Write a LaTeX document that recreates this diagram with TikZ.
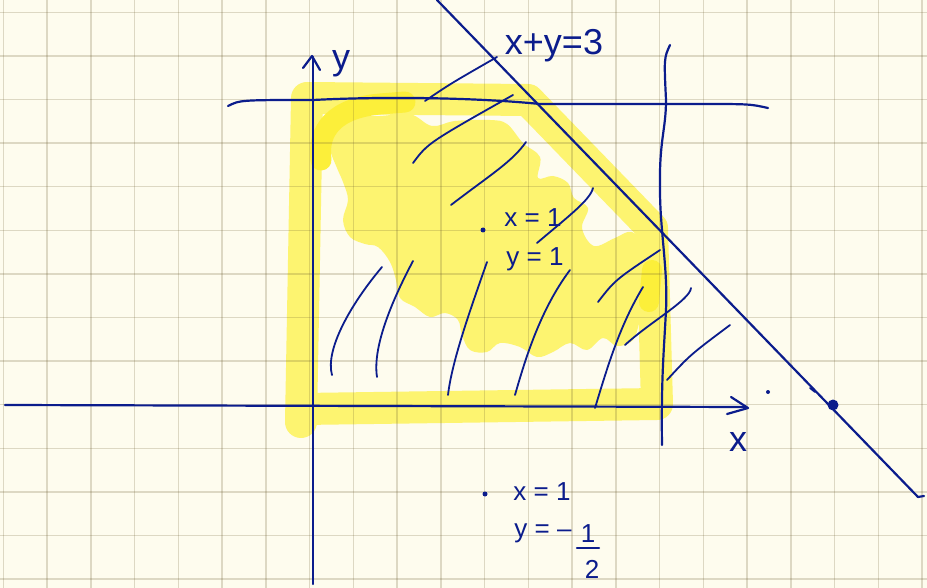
\documentclass[tikz,border=0pt]{standalone}
\usepackage{fontspec}
\setmainfont{Liberation Sans}
\usetikzlibrary{positioning,calc}
\definecolor{paper}    {HTML}{FEFCEE}
\definecolor{gridtone} {HTML}{6B5A2E}
\definecolor{pen}      {HTML}{0B1C8C}
\definecolor{marker}   {HTML}{FDF470}
\definecolor{markerhi} {HTML}{FCEF3A}
\tikzset{
  % --- strokes
  ink/.style    = {draw=pen, line width=2.2pt, line cap=round, line join=round},
  hatch/.style  = {ink, line width=1.8pt},
  gridln/.style = {draw=gridtone, opacity=0.22, line width=1.4pt},
  hilite/.style = {draw=marker, line width=32pt, line cap=round, line join=round},
  brite/.style  = {hilite, draw=markerhi, line width=21pt},
  % --- nodes
  hand/.style   = {text=pen, inner sep=0pt, font=\fontsize{26}{30}\selectfont},
  handbig/.style= {hand, font=\fontsize{36}{40}\selectfont},
  dot/.style    = {circle, fill=pen, inner sep=0pt, minimum size=#1},
}
\begin{document}
\begin{tikzpicture}[x=1pt, y=-1pt]
  \useasboundingbox (0,0) rectangle (927,588);
  \fill[paper] (0,0) rectangle (927,588);

  % highlighter
  \draw[hilite] (301,422) -- (307,98) -- (528,100) -- (652,228) -- (657,404) -- (303,409);
  \fill[marker] plot[smooth cycle, tension=0.6] coordinates {
    (330,118) (380,116) (410,114) (432,126) (455,121) (490,120) (507,124)
    (523,143) (540,157) (538,178) (553,176) (568,183) (574,198) (588,208)
    (582,228) (594,246) (615,238) (632,232) (645,250) (646,300) (640,320)
    (633,340) (617,346) (603,338) (587,350) (570,343) (553,352) (537,357)
    (520,347) (500,343) (487,352) (470,350) (462,335) (458,320) (445,313)
    (430,317) (415,307) (400,298) (396,280) (390,262) (378,247) (365,244)
    (350,237) (343,220) (348,200) (343,182) (337,168) (330,148)};
  \draw[brite] (321,160) .. controls (317,130) and (335,108) .. (380,104) -- (405,102);
  \draw[brite, line width=20pt] (652,270) -- (649,302);

  % paper grid
  \foreach \gx in {0,...,21} \draw[gridln] ({3.3+43.75*\gx},0) -- ({3.3+43.75*\gx},588);
  \foreach \gy in {0,...,13} \draw[gridln] (0,{12.3+43.6*\gy}) -- (927,{12.3+43.6*\gy});

  % axes
  \draw[ink] (5,405) -- (746,407);
  \draw[ink] (731,397) -- (748,408) -- (727,414);
  \draw[ink] (313,584) -- (313,57);
  \draw[ink] (303,68) -- (312,56) -- (320,70);

  % constraint lines
  \draw[ink] (228,106) .. controls (240,100) .. (313,100)
        .. controls (390,96) and (480,98) .. (540,104) -- (700,104)
        .. controls (750,104) .. (768,108);
  \draw[ink] (670,45) .. controls (664,58) .. (666,100)
        .. controls (666,130) and (659,140) .. (660,190)
        .. controls (660,230) and (668,270) .. (666,310)
        .. controls (664,350) and (661,380) .. (662,445);
  \draw[ink] (437,0) -- (918,497) -- (924,496);

  % shading strokes
  \draw[hatch] (425,101) .. controls (450,84) .. (497,57);
  \draw[hatch] (413,163) .. controls (428,143) .. (513,95);
  \draw[hatch] (451,205) .. controls (490,175) and (512,162) .. (526,142);
  \draw[hatch] (332,375) .. controls (325,350) and (350,305) .. (382,267);
  \draw[hatch] (377,377) .. controls (372,345) and (395,295) .. (413,261);
  \draw[hatch] (448,395) .. controls (452,360) and (472,305) .. (487,262);
  \draw[hatch] (515,395) .. controls (525,360) and (540,310) .. (570,270);
  \draw[hatch] (595,408) .. controls (608,365) and (620,325) .. (643,287);
  \draw[hatch] (598,302) .. controls (615,280) .. (660,250);
  \draw[hatch] (625,345) .. controls (650,322) and (690,300) .. (691,288);
  \draw[hatch] (667,380) .. controls (690,355) .. (730,325);
  \draw[hatch] (537,243) .. controls (570,215) and (590,200) .. (593,188);
  \draw[hatch] (810,388) -- (815,392);

  % labels and points
  \node[handbig] (lblsum) at (554,46) {x+y=3};
  \node[handbig] (lblx) at (738,442) {x};
  \node[handbig] (lbly) at (341,64) {y};
  \node[dot=5pt] (pin) at (483,230) {};
  \node[hand] (pinx) at (533,218) {x = 1};
  \node[hand] (piny) at (535,259) {y = 1};
  \node[dot=5pt] (pout) at (485,494) {};
  \node[hand] (poutx) at (542,492) {x = 1};
  \node[hand] (pouty) at (543,533) {y = –};
  \node[hand] (pnum) at (588,534) {1};
  \node[hand] (pden) at (592,569) {2};
  \draw[ink] ($(pnum.south)+(-11,5)$) -- ++(22,0);
  \node[dot=4pt] (pfar) at (768,392) {};
  \node[dot=11pt] (pline) at (833,405) {};
\end{tikzpicture}
\end{document}
